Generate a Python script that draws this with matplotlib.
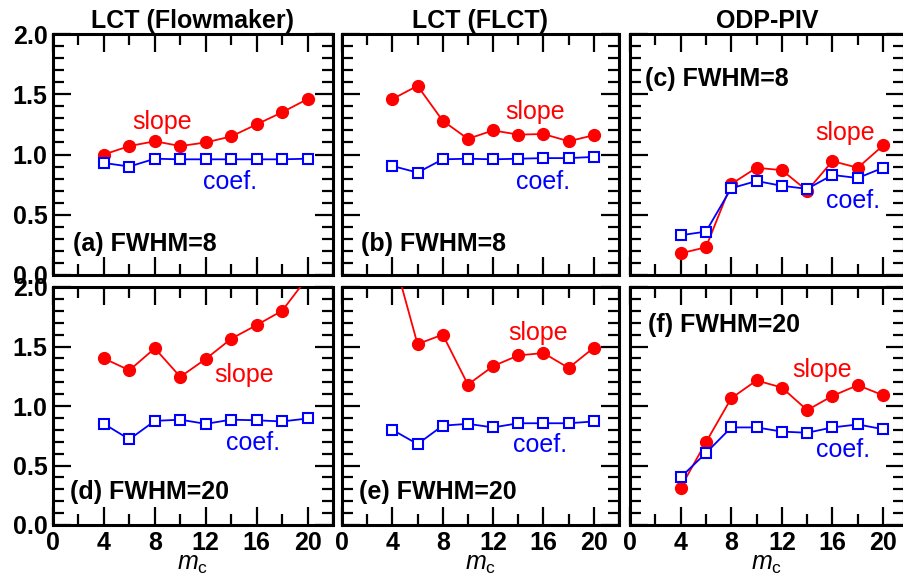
import matplotlib
matplotlib.use("Agg")
import matplotlib.pyplot as plt
from matplotlib.ticker import MultipleLocator

plt.rcParams['font.family'] = ['Liberation Sans', 'DejaVu Sans']
plt.rcParams['mathtext.fontset'] = 'custom'
plt.rcParams['mathtext.rm'] = 'Liberation Sans'
plt.rcParams['mathtext.it'] = 'Liberation Sans:italic'

mc = [4, 6, 8, 10, 12, 14, 16, 18, 20]

titles = ["LCT (Flowmaker)", "LCT (FLCT)", "ODP-PIV"]
panel_labels = ["(a) FWHM=8", "(b) FWHM=8", "(c) FWHM=8",
                "(d) FWHM=20", "(e) FWHM=20", "(f) FWHM=20"]

slope_a = [1.00, 1.07, 1.11, 1.07, 1.10, 1.15, 1.25, 1.35, 1.46]
coef_a = [0.93, 0.90, 0.965, 0.96, 0.96, 0.96, 0.96, 0.96, 0.965]
slope_b = [1.46, 1.57, 1.28, 1.13, 1.20, 1.165, 1.17, 1.11, 1.16]
coef_b = [0.905, 0.85, 0.96, 0.965, 0.96, 0.965, 0.97, 0.97, 0.98]
slope_c = [0.18, 0.23, 0.755, 0.89, 0.87, 0.70, 0.945, 0.89, 1.075]
coef_c = [0.33, 0.36, 0.72, 0.78, 0.74, 0.715, 0.83, 0.805, 0.89]
slope_d = [1.40, 1.30, 1.485, 1.245, 1.395, 1.565, 1.68, 1.80, 2.08]
coef_d = [0.85, 0.72, 0.875, 0.885, 0.85, 0.885, 0.88, 0.87, 0.895]
slope_e = [2.29, 1.52, 1.60, 1.18, 1.335, 1.425, 1.445, 1.32, 1.49]
coef_e = [0.80, 0.68, 0.835, 0.85, 0.82, 0.855, 0.855, 0.855, 0.87]
slope_f = [0.315, 0.695, 1.065, 1.215, 1.155, 0.965, 1.085, 1.175, 1.09]
coef_f = [0.40, 0.605, 0.82, 0.82, 0.785, 0.775, 0.82, 0.845, 0.805]

slopes = [slope_a, slope_b, slope_c, slope_d, slope_e, slope_f]
coefs = [coef_a, coef_b, coef_c, coef_d, coef_e, coef_f]

# text label positions (data coords) for "slope" and "coef."
slope_txt = [(8.6, 1.27), (15.3, 1.35), (17.0, 1.175), (15.0, 1.26), (15.6, 1.61), (15.2, 1.305)]
coef_txt = [(13.9, 0.77), (16.0, 0.775), (17.6, 0.61), (15.7, 0.69), (15.7, 0.675), (16.8, 0.63)]
plabel_pos = [(0.07, 0.13), (0.07, 0.13), (0.055, 0.815), (0.06, 0.14), (0.06, 0.14), (0.066, 0.84)]

W, H = 904, 575
fig = plt.figure(figsize=(W / 100, H / 100), dpi=100)

cols = [(53, 280, 22.0), (342, 277, 22.0), (630, 274, 21.65)]
rows = [(34, 275), (287, 525)]

FS = 18
for r in range(2):
    for c in range(3):
        i = r * 3 + c
        x0, w, xmax = cols[c]
        top, bot = rows[r]
        ax = fig.add_axes([x0 / W, (H - bot) / H, w / W, (bot - top) / H])
        ax.plot(mc, slopes[i], '-o', color='#ff0000', lw=1.3, ms=8.5, zorder=3, clip_on=True)
        ax.plot(mc, coefs[i], '-s', color='#0000ff', lw=1.3, ms=7, mfc='white',
                mec='#0000ff', mew=1.5, zorder=4)
        ax.set_xlim(0, xmax)
        ax.set_ylim(0, 2.0)
        ax.xaxis.set_major_locator(MultipleLocator(4))
        ax.xaxis.set_minor_locator(MultipleLocator(2))
        ax.yaxis.set_major_locator(MultipleLocator(0.5))
        ax.yaxis.set_minor_locator(MultipleLocator(0.1))
        ax.tick_params(which='both', direction='in', top=True, right=True, width=1.6,
                       labelsize=FS, pad=4)
        ax.tick_params(which='major', length=13)
        ax.tick_params(which='minor', length=8)
        for s in ax.spines.values():
            s.set_linewidth(2.2)
        ax.yaxis.set_major_formatter(plt.FuncFormatter(lambda v, p: f"{v:.1f}"))
        if c != 0:
            ax.set_yticklabels([])
        if r == 0:
            ax.set_xticklabels([])
            ax.set_title(titles[c], fontsize=FS, fontweight='bold', pad=4)
        else:
            ax.set_xlabel(r'$m_\mathrm{c}$', fontsize=FS, labelpad=-2)
        for lab in ax.get_xticklabels() + ax.get_yticklabels():
            lab.set_fontweight('bold')
        ax.text(*slope_txt[i], 'slope', color='#ff0000', fontsize=FS, ha='center', va='center')
        ax.text(*coef_txt[i], 'coef.', color='#0000ff', fontsize=FS, ha='center', va='center')
        ax.text(plabel_pos[i][0], plabel_pos[i][1], panel_labels[i], transform=ax.transAxes,
                fontsize=FS, fontweight='bold', ha='left', va='center')

fig.savefig('out.png', dpi=100)
